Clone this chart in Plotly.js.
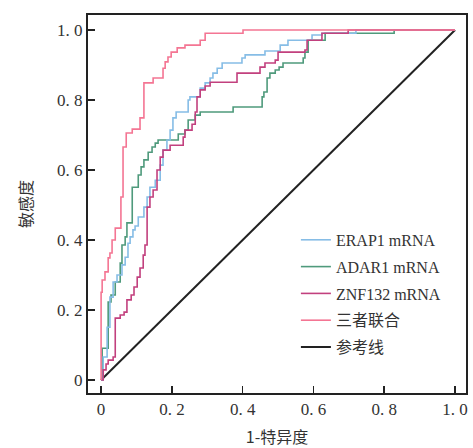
<!DOCTYPE html>
<html><head><meta charset="utf-8">
<script src="https://cdn.plot.ly/plotly-3.0.1.min.js"></script>
<style>html,body{margin:0;padding:0;background:#fff;}#chart{width:473px;height:448px;}</style>
</head><body><div id="chart"></div>
<script>
const seriesNames = ['ERAP1 mRNA', 'ADAR1 mRNA', 'ZNF132 mRNA', '三者联合', '参考线'];
const erap1Fpr = [0,0.006,0.017,0.025,0.034,0.045,0.059,0.068,0.076,0.082,0.090,0.096,0.105,0.121,0.130,0.138,0.153,0.167,0.175,0.186,0.195,0.203,0.212,0.246,0.251,0.280,0.294,0.308,0.316,0.328,0.342,0.398,0.407,0.463,0.506,0.528,0.596,0.624,0.720,1];
const erap1Tpr = [0,0.066,0.151,0.237,0.280,0.300,0.329,0.351,0.391,0.409,0.429,0.440,0.466,0.494,0.523,0.551,0.571,0.614,0.657,0.686,0.714,0.749,0.766,0.800,0.809,0.834,0.849,0.863,0.877,0.891,0.906,0.920,0.929,0.940,0.957,0.971,0.986,0.991,1,1];
const adar1Fpr = [0,0.003,0.020,0.028,0.040,0.054,0.059,0.068,0.073,0.088,0.105,0.113,0.121,0.133,0.144,0.153,0.161,0.218,0.237,0.246,0.266,0.280,0.373,0.455,0.460,0.469,0.477,0.492,0.503,0.514,0.571,0.576,0.585,0.633,0.828,1];
const adar1Tpr = [0,0.091,0.223,0.243,0.280,0.334,0.386,0.409,0.449,0.551,0.586,0.609,0.629,0.651,0.666,0.677,0.686,0.703,0.714,0.743,0.757,0.766,0.780,0.809,0.823,0.863,0.877,0.886,0.894,0.906,0.920,0.937,0.971,0.991,1,1];
const znf132Fpr = [0,0.006,0.014,0.020,0.034,0.040,0.054,0.065,0.073,0.085,0.093,0.102,0.110,0.119,0.124,0.130,0.138,0.147,0.158,0.167,0.175,0.195,0.232,0.237,0.257,0.266,0.271,0.280,0.294,0.308,0.384,0.449,0.463,0.492,0.500,0.576,0.582,0.624,0.698,1];
const znf132Tpr = [0,0.029,0.046,0.057,0.066,0.177,0.186,0.194,0.229,0.243,0.266,0.294,0.320,0.357,0.386,0.494,0.523,0.543,0.600,0.637,0.657,0.671,0.694,0.714,0.731,0.766,0.809,0.829,0.840,0.851,0.877,0.894,0.906,0.914,0.937,0.943,0.971,0.991,1,1];
const combFpr = [0,0,0.003,0.011,0.020,0.025,0.031,0.040,0.056,0.062,0.071,0.088,0.110,0.121,0.147,0.175,0.181,0.189,0.198,0.215,0.237,0.280,0.294,0.401,1];
const combTpr = [0,0.251,0.286,0.309,0.349,0.363,0.400,0.434,0.523,0.666,0.706,0.717,0.749,0.849,0.863,0.891,0.909,0.923,0.937,0.949,0.957,0.971,0.991,1,1];
const refX = [0, 1];
const refY = [0, 1];
const tickVals = [0, 0.2, 0.4, 0.6, 0.8, 1.0];
const tickText = ['0', '0. 2', '0. 4', '0. 6', '0. 8', '1. 0'];

const colors = ['#86bde6', '#4f9a7c', '#c2407e', '#f47593', '#222222'];
function stepTrace(x, y, i, rank) {
  return {x: x, y: y, name: seriesNames[i], type: 'scatter', mode: 'lines',
    line: {color: colors[i], width: 1.6, shape: 'hv'}, legendrank: rank, legendgroup: 'g' + i};
}
const traces = [
  {x: refX, y: refY, name: seriesNames[4], type: 'scatter', mode: 'lines',
   line: {color: colors[4], width: 2}, legendrank: 5, legendgroup: 'g4'},
  stepTrace(adar1Fpr, adar1Tpr, 1, 2),
  stepTrace(erap1Fpr, erap1Tpr, 0, 1),
  stepTrace(znf132Fpr, znf132Tpr, 2, 3),
  stepTrace(combFpr, combTpr, 3, 4)
];
const serif = 'Liberation Serif, DejaVu Serif, serif';
const cjk = 'Noto Sans CJK SC, sans-serif';
const layout = {
  width: 473, height: 448,
  margin: {l: 88, r: 7, t: 15, b: 55},
  paper_bgcolor: '#fff', plot_bgcolor: '#fff',
  showlegend: true,
  legend: {x: 0.55, y: 0.45, xanchor: 'left', yanchor: 'top', bgcolor: 'rgba(0,0,0,0)',
    font: {family: serif + ', ' + cjk, size: 16, color: '#333'}, tracegroupgap: 3, traceorder: 'grouped'},
  xaxis: {range: [-0.037, 1.031], tickvals: tickVals, ticktext: tickText, ticks: 'inside', ticklen: 7, tickwidth: 1.5,
    tickcolor: '#222', showline: true, linecolor: '#222', linewidth: 2, mirror: true, showgrid: false, zeroline: false,
    tickfont: {family: serif, size: 17, color: '#333'},
    title: {text: '1-特异度', font: {family: cjk, size: 16, color: '#333'}, standoff: 13}},
  yaxis: {range: [-0.037, 1.043], tickvals: tickVals, ticktext: tickText, ticks: 'inside', ticklen: 7, tickwidth: 1.5,
    tickcolor: '#222', showline: true, linecolor: '#222', linewidth: 2, mirror: true, showgrid: false, zeroline: false,
    tickfont: {family: serif, size: 17, color: '#333'},
    title: {text: '敏感度', font: {family: cjk, size: 16, color: '#333'}, standoff: 20}}
};
Plotly.newPlot('chart', traces, layout, {staticPlot: true, displayModeBar: false});
</script></body></html>
